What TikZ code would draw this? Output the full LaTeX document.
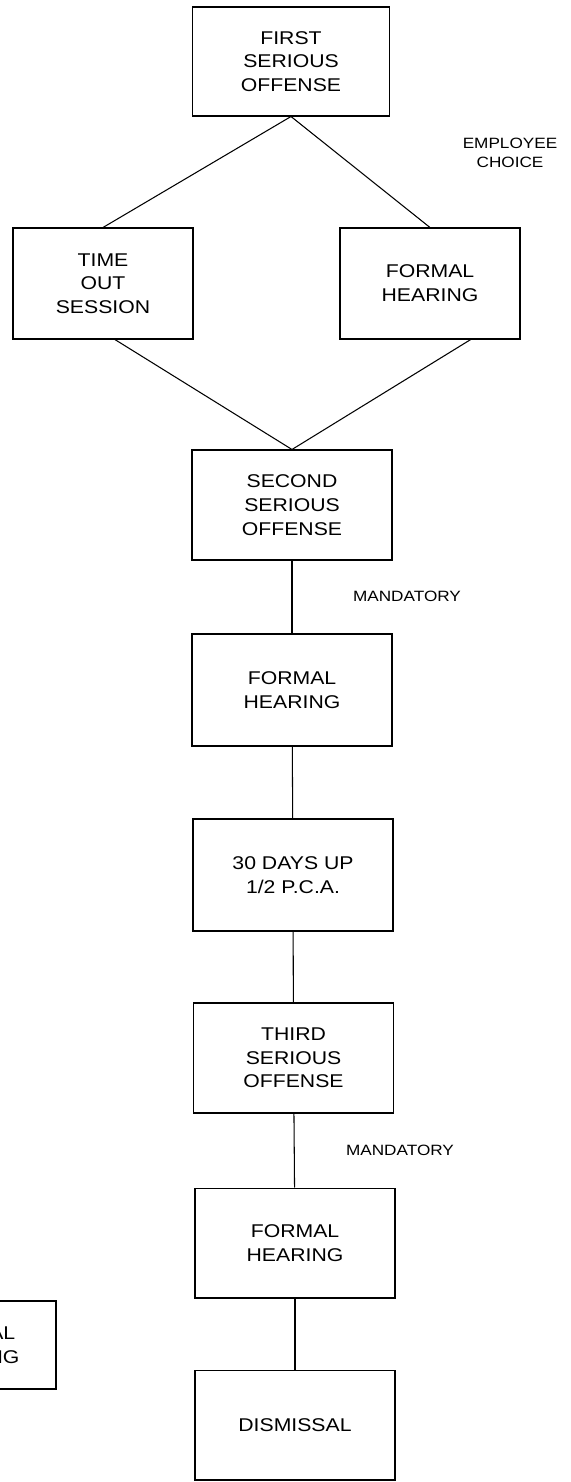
\documentclass[tikz,border=0pt]{standalone}
\usepackage{fontspec}
\setmainfont{Liberation Sans}[FakeStretch=1.15]
\usepackage{tikz}
\usetikzlibrary{positioning, calc}

\begin{document}
\begin{tikzpicture}[
	x=0.02cm, y=-0.02cm,
	line width=0.6pt,
	stage/.style={rectangle, draw, align=center, minimum width=4cm, minimum height=2.2cm, font=\fontsize{10.5}{13.5}\selectfont},
	choice/.style={stage, minimum width=3.6cm, minimum height=2.22cm},
	note/.style={align=center, font=\fontsize{8.5}{10.8}\selectfont}
	]
	\useasboundingbox (0,0) rectangle (571,1482);
	
	% First offense and the two options
	\node[stage, minimum width=3.94cm, minimum height=2.18cm] (FO1) at (291,61.5) {FIRST\\SERIOUS\\OFFENSE};
	\node[choice] (TO) at (103,283.5) {TIME\\OUT\\SESSION};
	\node[choice] (FH1) at (430,283.5) {FORMAL\\HEARING};
	\node[note] (EC) at (510,153) {EMPLOYEE\\CHOICE};
	
	\draw (FO1.south) -- (TO.north);
	\draw (FO1.south) -- (FH1.north);
	
	% Second offense
	\node[stage] (FO2) at (292,505) {SECOND\\SERIOUS\\OFFENSE};
	\draw (TO.-78) -- (FO2.north);
	\draw (FH1.-54) -- (FO2.north);
	
	\node[stage, minimum height=2.24cm] (FH2) at (292,690) {FORMAL\\HEARING};
	\node[note] (M1) at (407,596) {MANDATORY};
	\draw (FO2) -- (FH2);
	
	\node[stage, minimum height=2.24cm] (UP) at (293,875) {30 DAYS UP\\1/2 P.C.A.};
	\draw (FH2) -- (UP);
	
	% Third offense
	\node[stage] (FO3) at (293.5,1058) {THIRD\\SERIOUS\\OFFENSE};
	\draw (UP) -- (FO3);
	
	\node[stage] (FH3) at (295,1243) {FORMAL\\HEARING};
	\node[note] (M2) at (400,1150) {MANDATORY};
	\draw (FO3) -- (FH3);
	
	\node[stage] (DIS) at (295,1425) {DISMISSAL};
	\draw (FH3) -- (DIS);
	
	% box cut off at the left edge
	\node[stage, minimum width=3.4cm, minimum height=1.76cm] (FH4) at (-29,1345) {FORMAL\\HEARING};
	
\end{tikzpicture}
\end{document}
